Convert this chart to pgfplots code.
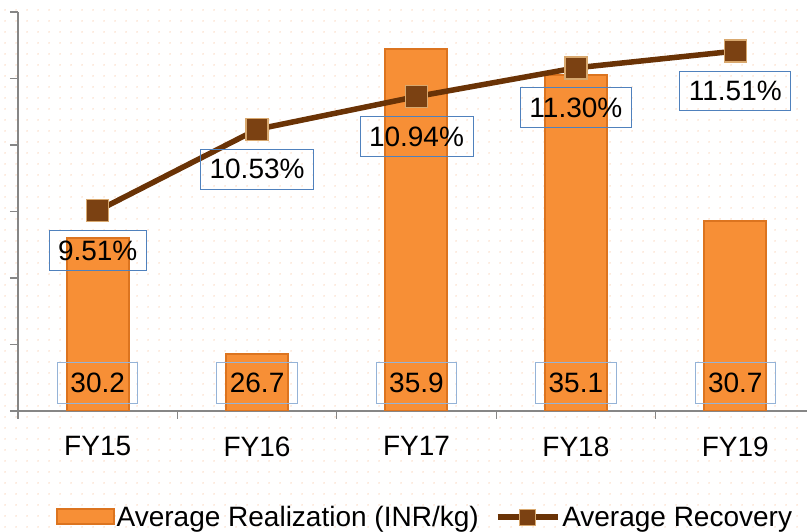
\documentclass[border=0pt]{standalone}
\usepackage{fontspec}
\setmainfont{Liberation Sans}
\usepackage{pgfplots}
\pgfplotsset{compat=1.18}
\usetikzlibrary{patterns.meta,backgrounds}

\definecolor{bard}{HTML}{DC741F}
\definecolor{barm}{HTML}{F78F36}
\definecolor{lineb}{HTML}{6A3306}
\definecolor{markf}{HTML}{7B4112}
\definecolor{marke}{HTML}{D8A86E}
\definecolor{boxblue}{HTML}{4F81BD}
\definecolor{boxlight}{HTML}{95B3D7}
\definecolor{axisgray}{HTML}{868686}
\definecolor{dotc}{HTML}{FBE1CF}

\tikzdeclarepattern{
  name=bgdots,
  type=uncolored,
  bottom left={(0pt,0pt)},
  top right={(11pt,11pt)},
  tile size={(11pt,11pt)},
  code={\fill (5.5pt,5.5pt) circle (1pt);}
}

\newcommand{\chartfont}{\fontsize{28}{32}\selectfont}

\pgfplotsset{
  bar legend/.style={legend image code/.code={%
    \filldraw[fill=barm, draw=bard, line width=1.5pt] (0pt,-7pt) rectangle (57pt,8pt);}},
  rec legend/.style={legend image code/.code={%
    \draw[mark repeat=2,mark phase=2,##1] plot coordinates {(0pt,0pt) (30pt,0pt) (60pt,0pt)};}},
}

\begin{document}
\begin{tikzpicture}
\begin{axis}[
  name=main,
  scale only axis, width=789pt, height=399pt,
  xmin=-0.5, xmax=4.45, ymin=25, ymax=37,
  axis x line*=bottom, axis y line*=left,
  axis line style={-, axisgray, line width=1.2pt},
  tick style={axisgray, line width=1.2pt},
  tick align=outside, major tick length=8pt,
  ytick={25,27,...,37}, yticklabels={},
  xtick={-0.5,0.5,1.5,2.5,3.5}, xticklabels={},
  extra x ticks={0,1,2,3,4},
  extra x tick labels={FY15,FY16,FY17,FY18,FY19},
  extra x tick style={major tick length=0pt},
  xticklabel style={font=\chartfont, yshift=-22pt},
  legend columns=2,
  legend cell align=left,
  legend style={at={(0.516,-0.266)}, anchor=center, draw=none, fill=none,
    font=\chartfont, /tikz/every even column/.append style={column sep=14pt}},
]
\addplot[ybar, bar width=62pt, bar shift=0pt, fill=barm, draw=bard, line width=2pt, bar legend]
  coordinates {(0,30.2) (1,26.7) (2,35.9) (3,35.1) (4,30.7)};
\addlegendentry{Average Realization (INR/kg)}

\addplot[draw=none, forget plot, nodes near coords, point meta=explicit symbolic,
  nodes near coords style={anchor=center, draw=boxlight, line width=1pt,
    inner xsep=13pt, inner ysep=11pt, font=\chartfont, text=black}]
  coordinates {(0,25.84)[30.2] (1,25.84)[26.7] (2,25.84)[35.9] (3,25.84)[35.1] (4,25.84)[30.7]};

\addlegendimage{lineb, line width=5.5pt, mark=square*, mark size=8pt,
  mark options={fill=markf, draw=marke, line width=1.2pt}, rec legend}
\addlegendentry{Average Recovery}
\end{axis}

\begin{axis}[
  scale only axis, width=789pt, height=399pt,
  xmin=-0.5, xmax=4.45, ymin=7, ymax=12,
  hide axis, clip=false,
]
\addplot[lineb, line width=5.5pt, mark=square*, mark size=11pt,
  mark options={fill=markf, draw=marke, line width=1.5pt},
  point meta=y,
  nodes near coords={\pgfmathprintnumber[fixed, fixed zerofill, precision=2, assume math mode=true]{\pgfplotspointmeta}\%},
  nodes near coords style={anchor=center, yshift=-40pt, draw=boxblue, line width=0.9pt,
    inner xsep=9pt, inner ysep=10pt, font=\chartfont, text=black}]
  coordinates {(0,9.51) (1,10.53) (2,10.94) (3,11.30) (4,11.51)};
\end{axis}

\begin{scope}[on background layer]
\fill[pattern=bgdots, pattern color=dotc]
  ([xshift=-18pt,yshift=-121pt]main.south west) rectangle ([yshift=12pt]main.north east);
\end{scope}
\pgfresetboundingbox
\path ([xshift=-18pt,yshift=-121pt]main.south west) rectangle ([yshift=12pt]main.north east);
\end{tikzpicture}
\end{document}
